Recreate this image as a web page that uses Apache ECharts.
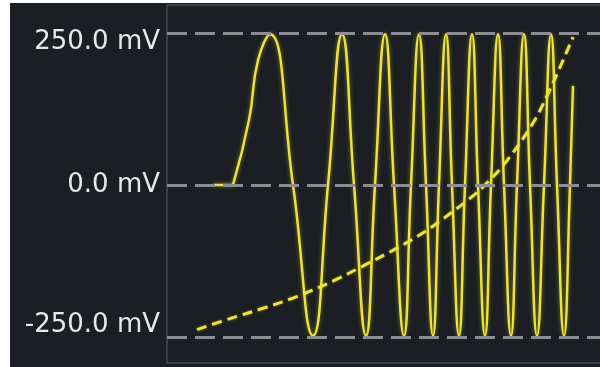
<!DOCTYPE html>
<html>
<head>
<meta charset="utf-8">
<script src="https://cdn.jsdelivr.net/npm/echarts@6/dist/echarts.min.js"></script>
<style>
  html, body { margin: 0; padding: 0; background: #ffffff; overflow: hidden; }
  #chart { position: absolute; left: 10px; top: 3px; width: 600px; height: 364px; }
</style>
</head>
<body>
<div id="chart"></div>
<script>
// idle part before the sweep starts (mV)
const idleX = [46, 66]
const idleY = [0, 0]

// chirp trace, sample position along the sweep and value in mV
const sigX = [66, 82, 91, 103, 126, 146, 161, 175, 187, 199, 208, 218, 227, 237, 244, 252, 259, 266, 272, 279, 285, 292, 298, 305, 311, 318, 324, 331, 337, 344, 350, 357, 363, 370, 377, 384, 390, 397, 403, 406]
const sigY = [0, 107, 205, 248, 0, -248, 0, 248, 0, -248, 0, 248, 0, -248, 0, 248, 0, -248, 0, 248, 0, -248, 0, 248, 0, -248, 0, 248, 0, -248, 0, 248, 0, -248, 0, 248, 0, -248, 0, 163]

// frequency ramp (dashed)
const rampX = [30, 63, 96, 123, 140, 170, 200, 230, 253, 270, 303, 318, 340, 366, 381, 396, 406]
const rampY = [-238, -220, -203, -188, -177, -155, -130, -104, -82, -63, -22, 0, 40, 102, 150, 205, 243]

// y tick labels
const yTicks = [-250, 0, 250]

const chart = echarts.init(document.getElementById('chart'))

const yellow = '#ece33c'
const traceStyle = {
    color: yellow,
    width: 2.5,
    shadowColor: 'rgba(230,220,40,0.5)',
    shadowBlur: 4
}

const option = {
    backgroundColor: '#1b1e22',
    animation: false,
    grid: {
        left: 157,
        top: 2,
        right: 0,
        bottom: 4,
        show: true,
        borderColor: '#5a5d61',
        borderWidth: 1
    },
    xAxis: {
        type: 'value',
        min: 0,
        max: 443,
        show: false
    },
    yAxis: {
        type: 'value',
        min: -293,
        max: 296,
        axisLine: { show: false },
        axisTick: { show: false },
        splitLine: { show: false },
        axisLabel: {
            customValues: yTicks,
            margin: 7,
            color: '#e8e8e8',
            fontFamily: 'DejaVu Sans',
            fontSize: 26,
            formatter: (v) => {
                const key = v > 0 ? 't' : (v < 0 ? 'b' : 'm')
                return '{' + key + '|' + v.toFixed(1) + ' mV}'
            },
            rich: {
                t: { padding: [18, 0, 0, 0], fontFamily: 'DejaVu Sans', fontSize: 26, color: '#e8e8e8' },
                m: { padding: [0, 0, 0, 0], fontFamily: 'DejaVu Sans', fontSize: 26, color: '#e8e8e8' },
                b: { padding: [0, 0, 24, 0], fontFamily: 'DejaVu Sans', fontSize: 26, color: '#e8e8e8' }
            }
        }
    },
    series: [
        {
            name: 'ramp',
            type: 'line',
            data: rampX.map((x, i) => [x, rampY[i]]),
            smooth: 0.4,
            symbol: 'none',
            z: 3,
            lineStyle: {
                color: yellow,
                width: 3,
                type: [10, 6],
                shadowColor: 'rgba(230,220,40,0.45)',
                shadowBlur: 3
            }
        },
        {
            name: 'idle',
            type: 'line',
            data: idleX.map((x, i) => [x, idleY[i]]),
            symbol: 'none',
            z: 2,
            lineStyle: traceStyle
        },
        {
            name: 'signal',
            type: 'line',
            data: sigX.map((x, i) => [x, sigY[i]]),
            smooth: 0.5,
            symbol: 'none',
            z: 2,
            lineStyle: traceStyle,
            markLine: {
                silent: true,
                symbol: 'none',
                label: { show: false },
                z: 5,
                lineStyle: {
                    color: '#8c8e91',
                    width: 3,
                    type: [20, 8]
                },
                data: yTicks.map((v) => ({ yAxis: v }))
            }
        }
    ]
}

chart.setOption(option)
</script>
</body>
</html>
